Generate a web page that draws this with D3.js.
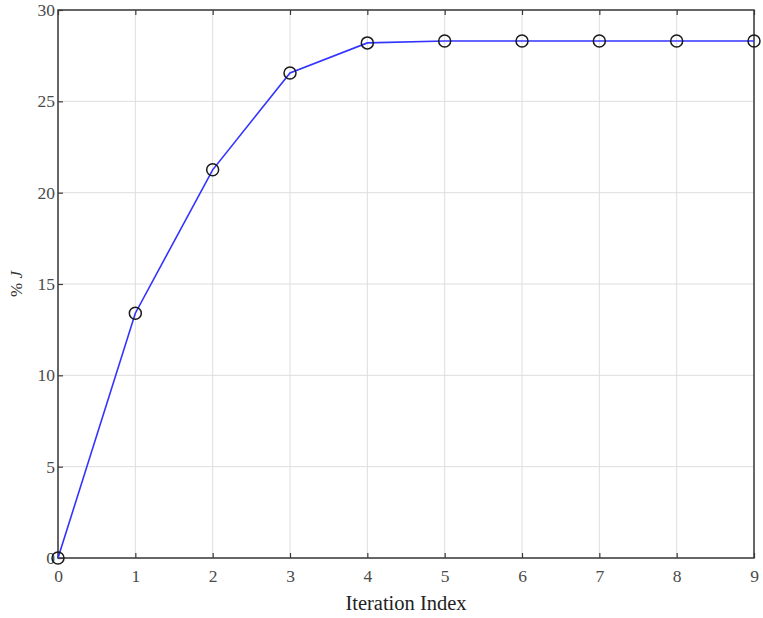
<!DOCTYPE html>
<html>
<head>
<meta charset="utf-8">
<script src="https://cdn.jsdelivr.net/npm/d3@7"></script>
<style>
  body { margin: 0; background: #fff; }
  text { font-family: "Liberation Serif", "Times New Roman", serif; }
</style>
</head>
<body>
<div id="chart"></div>
<script>
// Iteration index vs %J
const iterations = [0, 1, 2, 3, 4, 5, 6, 7, 8, 9];
const percentJ = [0, 13.4, 21.25, 26.55, 28.2, 28.3, 28.3, 28.3, 28.3, 28.3];
const xTicks = [0, 1, 2, 3, 4, 5, 6, 7, 8, 9];
const yTicks = [0, 5, 10, 15, 20, 25, 30];

const width = 763;
const height = 618;
const margin = { top: 10, right: 9, bottom: 60, left: 58 };

const svg = d3.select("#chart")
    .append("svg")
    .attr("width", width)
    .attr("height", height);

const x = d3.scaleLinear().domain([0, 9]).range([margin.left, width - margin.right]);
const y = d3.scaleLinear().domain([0, 30]).range([height - margin.bottom, margin.top]);

const plotW = width - margin.left - margin.right;
const plotH = height - margin.top - margin.bottom;

// Grid lines
svg.append("g")
    .selectAll("line.vgrid")
    .data(xTicks)
    .enter()
    .append("line")
    .attr("x1", d => x(d)).attr("x2", d => x(d))
    .attr("y1", margin.top).attr("y2", height - margin.bottom)
    .attr("stroke", "#dedede")
    .attr("stroke-width", 1);

svg.append("g")
    .selectAll("line.hgrid")
    .data(yTicks)
    .enter()
    .append("line")
    .attr("x1", margin.left).attr("x2", width - margin.right)
    .attr("y1", d => y(d)).attr("y2", d => y(d))
    .attr("stroke", "#dedede")
    .attr("stroke-width", 1);

// Axes with inward ticks
const axisColor = "#3a3a3a";
const styleAxis = g => {
    g.select(".domain").remove();
    g.selectAll(".tick line").attr("stroke", axisColor).attr("stroke-width", 1.2);
    g.selectAll(".tick text")
        .attr("fill", "#4a4a4a")
        .style("font-size", "17.5px")
        .style("font-family", "'Liberation Serif', 'Times New Roman', serif");
};

svg.append("g")
    .attr("transform", `translate(0,${height - margin.bottom})`)
    .call(d3.axisBottom(x).tickValues(xTicks).tickSize(-5).tickPadding(12).tickFormat(d3.format("d")))
    .call(styleAxis);

svg.append("g")
    .attr("transform", `translate(${margin.left},0)`)
    .call(d3.axisLeft(y).tickValues(yTicks).tickSize(-5).tickPadding(3).tickFormat(d3.format("d")))
    .call(styleAxis);

svg.append("g")
    .attr("transform", `translate(0,${margin.top})`)
    .call(d3.axisTop(x).tickValues(xTicks).tickSize(-5).tickFormat(""))
    .call(styleAxis);

// Box
svg.append("rect")
    .attr("x", margin.left)
    .attr("y", margin.top)
    .attr("width", plotW)
    .attr("height", plotH)
    .attr("fill", "none")
    .attr("stroke", axisColor)
    .attr("stroke-width", 1.5);

// Line
const points = iterations.map((d, i) => ({ x: d, y: percentJ[i] }));

svg.append("path")
    .datum(points)
    .attr("fill", "none")
    .attr("stroke", "#3333ff")
    .attr("stroke-width", 1.6)
    .attr("d", d3.line().x(d => x(d.x)).y(d => y(d.y)));

// Markers
svg.selectAll(".marker")
    .data(points)
    .enter()
    .append("circle")
    .attr("class", "marker")
    .attr("cx", d => x(d.x))
    .attr("cy", d => y(d.y))
    .attr("r", 6)
    .attr("fill", "none")
    .attr("stroke", "#1a1a1a")
    .attr("stroke-width", 1.5);

// Axis labels
svg.append("text")
    .attr("x", (margin.left + width - margin.right) / 2)
    .attr("y", 610)
    .attr("text-anchor", "middle")
    .attr("fill", "#222")
    .style("font-size", "20.5px")
    .text("Iteration Index");

const yl = svg.append("text")
    .attr("transform", `translate(22,${margin.top + plotH / 2}) rotate(-90)`)
    .attr("text-anchor", "middle")
    .attr("fill", "#333")
    .style("font-size", "17px")
    .text("% ");
yl.append("tspan").style("font-style", "italic").text("J");
</script>
</body>
</html>
